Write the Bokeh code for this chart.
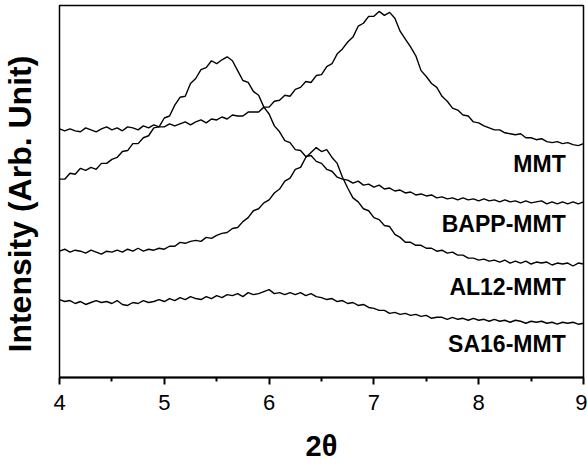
import numpy as np
from bokeh.plotting import figure
from bokeh.models import Range1d, FixedTicker, Title
from bokeh.core.properties import value
from bokeh.embed import file_html
from bokeh.resources import INLINE

# 2-theta sampling grid (degrees)
two_theta = np.round(np.arange(4.0, 9.0001, 0.05), 2)

# Intensities (arbitrary units)
mmt = [252, 250, 252, 250, 249, 253, 251, 249, 252, 254,
       251, 253, 250, 254, 253, 251, 255, 253, 256, 254,
       254, 257, 255, 257, 259, 256, 259, 261, 258, 262,
       261, 264, 262, 266, 265, 265, 269, 269, 269, 274,
       274, 280, 281, 286, 285, 292, 294, 300, 299, 306,
       307, 315, 318, 328, 333, 340, 345, 356, 359, 366,
       366, 371, 367, 370, 364, 351, 343, 335, 326, 311,
       305, 298, 294, 285, 280, 273, 271, 266, 265, 259,
       258, 255, 253, 251, 251, 248, 247, 246, 247, 243,
       243, 241, 242, 239, 238, 239, 237, 238, 236, 235,
       237]

bapp_mmt = [201, 201, 207, 206, 212, 210, 213, 211, 217, 217,
            221, 223, 229, 230, 237, 237, 243, 245, 253, 254,
            263, 265, 276, 284, 285, 298, 303, 312, 314, 321,
            318, 322, 325, 321, 311, 301, 299, 290, 286, 274,
            267, 255, 249, 240, 238, 231, 230, 224, 225, 219,
            217, 211, 209, 203, 201, 200, 197, 199, 195, 196,
            193, 195, 191, 192, 189, 190, 187, 188, 185, 186,
            184, 185, 182, 183, 181, 182, 180, 182, 180, 181,
            179, 181, 179, 180, 178, 180, 178, 179, 177, 179,
            177, 178, 179, 176, 178, 176, 178, 176, 178, 176,
            178]

al12_mmt = [128, 130, 127, 129, 128, 126, 129, 127, 125, 128,
            127, 129, 127, 130, 128, 131, 128, 130, 129, 131,
            130, 133, 133, 137, 136, 138, 139, 138, 142, 141,
            144, 146, 147, 151, 152, 158, 162, 169, 171, 177,
            180, 187, 191, 199, 202, 211, 213, 223, 228, 233,
            229, 231, 223, 217, 203, 192, 182, 178, 171, 169,
            162, 160, 154, 153, 145, 142, 137, 137, 134, 134,
            131, 131, 128, 129, 126, 127, 124, 124, 121, 121,
            119, 120, 118, 119, 117, 119, 116, 118, 116, 118,
            115, 117, 116, 117, 114, 116, 115, 116, 113, 116,
            115]

sa16_mmt = [79, 77, 78, 75, 77, 74, 76, 78, 76, 77,
            75, 78, 74, 73, 76, 75, 78, 76, 77, 79,
            77, 80, 78, 81, 79, 82, 80, 79, 82, 80,
            83, 81, 84, 83, 85, 82, 86, 84, 85, 87,
            89, 85, 86, 84, 86, 84, 86, 83, 85, 82,
            81, 79, 80, 77, 78, 75, 76, 73, 74, 71,
            70, 68, 68, 65, 66, 64, 65, 63, 64, 62,
            63, 60, 61, 61, 59, 61, 59, 60, 58, 60,
            58, 59, 57, 59, 57, 58, 56, 58, 57, 55,
            57, 56, 57, 55, 56, 54, 56, 55, 56, 54,
            55]

series_names = ["MMT", "BAPP-MMT", "AL12-MMT", "SA16-MMT"]
series_values = [mmt, bapp_mmt, al12_mmt, sa16_mmt]

x_ticks = [4, 5, 6, 7, 8, 9]
x_minor_ticks = [4.5, 5.5, 6.5, 7.5, 8.5]

p = figure(width=587, height=464,
           x_range=Range1d(4, 9), y_range=Range1d(0, 377),
           output_backend="svg", toolbar_location=None,
           min_border_left=59, min_border_right=4,
           min_border_top=5, min_border_bottom=82)

p.background_fill_color = "white"
p.border_fill_color = "white"
p.outline_line_color = "black"
p.outline_line_width = 1.5
p.outline_line_alpha = 1.0
p.xgrid.visible = False
p.ygrid.visible = False
p.yaxis.visible = False

ax = p.xaxis[0]
ax.ticker = FixedTicker(ticks=x_ticks, minor_ticks=x_minor_ticks)
ax.axis_line_width = 2
ax.axis_line_color = "black"
ax.major_tick_line_width = 2
ax.minor_tick_line_width = 2
ax.major_tick_out = 7
ax.major_tick_in = 0
ax.minor_tick_out = 4
ax.minor_tick_in = 0
ax.major_label_text_font = "Liberation Sans"
ax.major_label_text_font_size = "22px"
ax.major_label_text_color = "black"
ax.major_label_standoff = 10
ax.axis_label = "2θ"
ax.axis_label_text_font = "Liberation Sans"
ax.axis_label_text_font_style = "bold"
ax.axis_label_text_font_size = "29px"
ax.axis_label_text_color = "black"
ax.axis_label_standoff = 17

for vals in series_values:
    p.line(two_theta, vals, line_color="black", line_width=1.4)

label_x = 8.83
label_y = [216, 156, 92, 34]
p.text(x=[label_x] * 4, y=label_y, text=series_names,
       text_font=value("Liberation Sans"), text_font_style="bold",
       text_font_size="23px", text_align="right", text_baseline="middle",
       text_color="black")

# thin spacer panel between the frame and the vertical axis title
spacer = Title(text=" ", text_font_size="1px", standoff=17)
p.add_layout(spacer, "left")

ylab = Title(text="Intensity (Arb. Unit)", align="left", offset=25,
             vertical_align="top", standoff=0,
             text_font="Liberation Sans", text_font_style="bold",
             text_font_size="32px", text_color="black")
p.add_layout(ylab, "left")

open("out.html", "w").write(file_html(p, INLINE))
